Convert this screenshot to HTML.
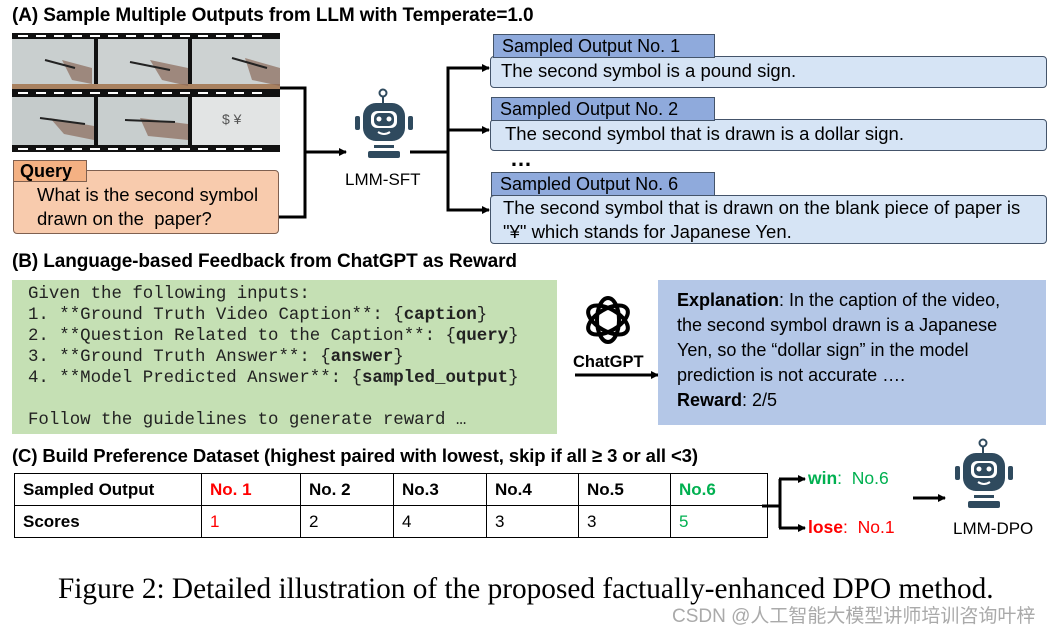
<!DOCTYPE html>
<html><head><meta charset="utf-8"><style>
body{margin:0;width:1058px;height:634px;background:#fff;position:relative;overflow:hidden;font-family:"Liberation Sans",sans-serif;}
.a{position:absolute;}
.t{font-weight:bold;font-size:19px;color:#000;letter-spacing:-0.1px;}
.lbl{position:absolute;background:#8faadc;border:1px solid #44546a;font-size:18px;padding-left:8px;box-sizing:border-box;line-height:22px;}
.box{position:absolute;background:#d6e4f5;border:1px solid #44546a;border-radius:4px;font-size:18.5px;padding-left:10px;box-sizing:border-box;line-height:25px;}
.code{font-family:"Liberation Mono",monospace;font-size:17.4px;line-height:21px;white-space:pre;color:#222;}
table{border-collapse:collapse;font-size:17px;}
td{border:1.5px solid #000;height:31px;padding:0 8px;}
</style></head><body>
<div class="a t" style="left:12px;top:5px;">(A) Sample Multiple Outputs from LLM with Temperate=1.0</div>
<svg class="a" style="left:0;top:0" width="1058" height="634">
<defs><marker id="ar" markerWidth="8" markerHeight="8" refX="7" refY="4" orient="auto" markerUnits="userSpaceOnUse"><path d="M0,0 L8,4 L0,8z" fill="#000"/></marker></defs>
<rect x="12" y="33" width="268" height="119" fill="#111"/>
<g fill="#fff">
<rect x="18" y="35" width="10" height="2"/><rect x="36" y="35" width="10" height="2"/><rect x="54" y="35" width="10" height="2"/><rect x="72" y="35" width="10" height="2"/><rect x="90" y="35" width="10" height="2"/><rect x="108" y="35" width="10" height="2"/><rect x="126" y="35" width="10" height="2"/><rect x="144" y="35" width="10" height="2"/><rect x="162" y="35" width="10" height="2"/><rect x="180" y="35" width="10" height="2"/><rect x="198" y="35" width="10" height="2"/><rect x="216" y="35" width="10" height="2"/><rect x="234" y="35" width="10" height="2"/><rect x="252" y="35" width="10" height="2"/>
<rect x="18" y="92" width="10" height="2"/><rect x="36" y="92" width="10" height="2"/><rect x="54" y="92" width="10" height="2"/><rect x="72" y="92" width="10" height="2"/><rect x="90" y="92" width="10" height="2"/><rect x="108" y="92" width="10" height="2"/><rect x="126" y="92" width="10" height="2"/><rect x="144" y="92" width="10" height="2"/><rect x="162" y="92" width="10" height="2"/><rect x="180" y="92" width="10" height="2"/><rect x="198" y="92" width="10" height="2"/><rect x="216" y="92" width="10" height="2"/><rect x="234" y="92" width="10" height="2"/><rect x="252" y="92" width="10" height="2"/>
<rect x="18" y="148" width="10" height="2"/><rect x="36" y="148" width="10" height="2"/><rect x="54" y="148" width="10" height="2"/><rect x="72" y="148" width="10" height="2"/><rect x="90" y="148" width="10" height="2"/><rect x="108" y="148" width="10" height="2"/><rect x="126" y="148" width="10" height="2"/><rect x="144" y="148" width="10" height="2"/><rect x="162" y="148" width="10" height="2"/><rect x="180" y="148" width="10" height="2"/><rect x="198" y="148" width="10" height="2"/><rect x="216" y="148" width="10" height="2"/><rect x="234" y="148" width="10" height="2"/><rect x="252" y="148" width="10" height="2"/>
</g>
<g>
<rect x="12" y="39" width="82" height="50" fill="#c9cfcf"/><rect x="98" y="39" width="90" height="50" fill="#ccd1d1"/><rect x="192" y="39" width="88" height="50" fill="#cdd2d2"/>
<rect x="12" y="97" width="82" height="48" fill="#c5cbcb"/><rect x="98" y="97" width="90" height="48" fill="#c8cece"/><rect x="192" y="97" width="88" height="48" fill="#e2e4e4"/>
<rect x="12" y="84" width="268" height="5" fill="#a88160"/>
<path d="M62,60 l30,8 l0,16 l-20,-4z M150,60 l38,8 l0,18 l-26,-6z M245,58 l35,10 l0,18 l-28,-6z M50,118 l44,8 l0,14 l-30,-6z M140,118 l48,6 l0,16 l-40,-4z" fill="#8a6a5a" opacity=".7"/>
<path d="M45,60 l30,8 M130,62 l40,8 M232,58 l35,10 M40,118 l45,6 M125,120 l50,2" stroke="#222" stroke-width="2"/>
</g>
<text x="222" y="124" font-size="14" fill="#555">$ ¥</text>
<polyline points="280,88 305,88 305,217 279,217" fill="none" stroke="#000" stroke-width="3"/>
<line x1="305" y1="152" x2="346" y2="152" stroke="#000" stroke-width="3" marker-end="url(#ar)"/>
<line x1="410" y1="152" x2="448" y2="152" stroke="#000" stroke-width="3"/>
<polyline points="488,68 448,68 448,210 488,210" fill="none" stroke="#000" stroke-width="3"/>
<line x1="448" y1="68" x2="489" y2="68" stroke="#000" stroke-width="3" marker-end="url(#ar)"/>
<line x1="448" y1="130" x2="489" y2="130" stroke="#000" stroke-width="3" marker-end="url(#ar)"/>
<line x1="448" y1="210" x2="489" y2="210" stroke="#000" stroke-width="3" marker-end="url(#ar)"/>
<g fill="#2f4a5e">
<circle cx="383" cy="93" r="3.5" fill="none" stroke="#2f4a5e" stroke-width="2"/><rect x="382" y="96" width="2" height="8"/>
<rect x="363" y="103" width="42" height="38" rx="13"/>
<rect x="355" y="116" width="5" height="14" rx="2"/><rect x="408" y="116" width="5" height="14" rx="2"/>
<rect x="371" y="111" width="26" height="17" rx="6" fill="#fff"/><rect x="374" y="113" width="20" height="13" rx="5"/>
<circle cx="379" cy="119" r="2.5" fill="#fff"/><circle cx="389" cy="119" r="2.5" fill="#fff"/>
<path d="M378,132 q6,4 12,0" stroke="#fff" stroke-width="2" fill="none"/>
<rect x="374" y="145" width="20" height="3"/><rect x="368" y="151" width="32" height="7" rx="2"/>
</g>
<line x1="575" y1="375" x2="658" y2="375" stroke="#000" stroke-width="3" marker-end="url(#ar)"/>
<g transform="translate(608,320)" fill="none" stroke="#000" stroke-width="4">
<ellipse rx="11" ry="22"/><ellipse rx="11" ry="22" transform="rotate(60)"/><ellipse rx="11" ry="22" transform="rotate(120)"/>
</g>
<line x1="762" y1="506" x2="780" y2="506" stroke="#000" stroke-width="3"/>
<polyline points="780,479 780,528" fill="none" stroke="#000" stroke-width="3"/>
<line x1="779" y1="479" x2="805" y2="479" stroke="#000" stroke-width="3" marker-end="url(#ar)"/>
<line x1="779" y1="528" x2="805" y2="528" stroke="#000" stroke-width="3" marker-end="url(#ar)"/>
<line x1="913" y1="498" x2="945" y2="498" stroke="#000" stroke-width="3" marker-end="url(#ar)"/>
<g fill="#2f4a5e" transform="translate(600,350)">
<circle cx="383" cy="93" r="3.5" fill="none" stroke="#2f4a5e" stroke-width="2"/><rect x="382" y="96" width="2" height="8"/>
<rect x="363" y="103" width="42" height="38" rx="13"/>
<rect x="355" y="116" width="5" height="14" rx="2"/><rect x="408" y="116" width="5" height="14" rx="2"/>
<rect x="371" y="111" width="26" height="17" rx="6" fill="#fff"/><rect x="374" y="113" width="20" height="13" rx="5"/>
<circle cx="379" cy="119" r="2.5" fill="#fff"/><circle cx="389" cy="119" r="2.5" fill="#fff"/>
<path d="M378,132 q6,4 12,0" stroke="#fff" stroke-width="2" fill="none"/>
<rect x="374" y="145" width="20" height="3"/><rect x="368" y="151" width="32" height="7" rx="2"/>
</g>
</svg>
<div class="a" style="left:13px;top:170px;width:266px;height:64px;background:#f8cbad;border:1px solid #7f6050;border-radius:4px;box-sizing:border-box;"></div>
<div class="a" style="left:13px;top:160px;width:74px;height:22px;background:#f4b183;border:1px solid #7f6050;box-sizing:border-box;font-weight:bold;font-size:18px;line-height:20px;padding-left:6px;">Query</div>
<div class="a" style="left:37px;top:183px;font-size:18.5px;line-height:24px;">What is the second symbol<br>drawn on the&nbsp; paper?</div>
<div class="a" style="left:345px;top:170px;font-size:17px;">LMM-SFT</div>
<div class="box" style="left:490px;top:56px;width:557px;height:32px;line-height:28px;">The second symbol is a pound sign.</div>
<div class="lbl" style="left:493px;top:34px;width:222px;height:24px;">Sampled Output No. 1</div>
<div class="box" style="left:490px;top:119px;width:557px;height:32px;line-height:28px;padding-left:14px;">The second symbol that is drawn is a dollar sign.</div>
<div class="lbl" style="left:491px;top:97px;width:224px;height:24px;">Sampled Output No. 2</div>
<div class="a" style="left:510px;top:146px;font-size:22px;font-weight:bold;">…</div>
<div class="box" style="left:490px;top:195px;width:557px;height:49px;line-height:24px;padding-left:12px;">The second symbol that is drawn on the blank piece of paper is<br>"¥" which stands for Japanese Yen.</div>
<div class="lbl" style="left:491px;top:172px;width:224px;height:24px;">Sampled Output No. 6</div>
<div class="a t" style="left:12px;top:251px;">(B) Language-based Feedback from ChatGPT as Reward</div>
<div class="a" style="left:12px;top:280px;width:545px;height:154px;background:#c5e0b4;"></div>
<div class="a code" style="left:28px;top:284px;">Given the following inputs:
1. **Ground Truth Video Caption**: {<b>caption</b>}
2. **Question Related to the Caption**: {<b>query</b>}
3. **Ground Truth Answer**: {<b>answer</b>}
4. **Model Predicted Answer**: {<b>sampled_output</b>}

Follow the guidelines to generate reward …</div>
<div class="a" style="left:573px;top:353px;font-weight:bold;font-size:16.5px;">ChatGPT</div>
<div class="a" style="left:658px;top:280px;width:388px;height:145px;background:#b4c7e7;"></div>
<div class="a" style="left:677px;top:288px;font-size:18px;line-height:25px;"><b>Explanation</b>: In the caption of the video,<br>the second symbol drawn is a Japanese<br>Yen, so the “dollar sign” in the model<br>prediction is not accurate ….<br><b>Reward</b>: 2/5</div>
<div class="a t" style="left:12px;top:445px;font-size:18.5px;">(C) Build Preference Dataset (highest paired with lowest, skip if all ≥ 3 or all &lt;3)</div>
<table class="a" style="left:14px;top:473px;">
<tr style="font-weight:bold"><td style="width:170px">Sampled Output</td><td style="width:82px;color:#f00">No. 1</td><td style="width:76px">No. 2</td><td style="width:76px">No.3</td><td style="width:75px">No.4</td><td style="width:75px">No.5</td><td style="width:80px;color:#00b050">No.6</td></tr>
<tr><td style="font-weight:bold">Scores</td><td style="color:#f00">1</td><td>2</td><td>4</td><td>3</td><td>3</td><td style="color:#00b050">5</td></tr>
</table>
<div class="a" style="left:808px;top:468px;font-size:17.5px;color:#00b050;"><b>win</b>:&nbsp; No.6</div>
<div class="a" style="left:808px;top:517px;font-size:17.5px;color:#f00;"><b>lose</b>:&nbsp; No.1</div>
<div class="a" style="left:953px;top:519px;font-size:17px;">LMM-DPO</div>
<div class="a" style="left:58px;top:573px;font-family:'Liberation Serif',serif;font-size:29.3px;white-space:nowrap;">Figure 2: Detailed illustration of the proposed factually-enhanced DPO method.</div>
<div class="a" style="left:672px;top:601px;font-size:19px;color:#aaa;white-space:nowrap;font-family:'Liberation Sans','Noto Sans CJK SC',sans-serif;">CSDN @人工智能大模型讲师培训咨询叶梓</div>
</body></html>
